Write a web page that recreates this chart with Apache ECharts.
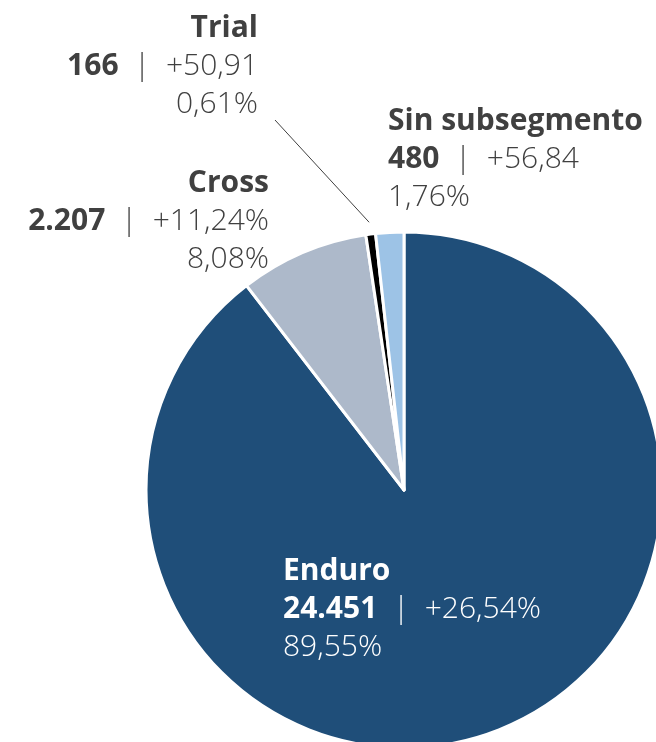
<!DOCTYPE html>
<html>
<head>
<meta charset="utf-8">
<script src="https://cdn.jsdelivr.net/npm/echarts@6/dist/echarts.min.js"></script>
<style>
html,body{margin:0;padding:0;background:#fff;}
#chart{width:656px;height:742px;}
</style>
</head>
<body>
<div id="chart"></div>
<script>
const categories = ['Enduro', 'Cross', 'Trial', 'Sin subsegmento'];
const values = [24451, 2207, 166, 480];
const growth = ['+26,54%', '+11,24%', '+50,91', '+56,84'];

const colors = ['#1F4E79', '#ADB9CA', '#000000', '#9DC3E6'];
const labelPos = [
  { x: 283, y: 552, align: 'left' },
  { x: 269, y: 164, align: 'right' },
  { x: 258, y: 9, align: 'right' },
  { x: 388, y: 102, align: 'left' }
];
const textColors = ['#ffffff', '#404040', '#404040', '#404040'];

function fmtInt(v) {
  return String(v).replace(/\B(?=(\d{3})+(?!\d))/g, '.');
}

const FONT = '"Open Sans", "DejaVu Sans", sans-serif';
const FS = 30, LH = 38;
function richFor(c) {
  return {
    n: { fontFamily: FONT, fontSize: FS, fontWeight: 'bold', color: c, lineHeight: LH },
    v: { fontFamily: FONT, fontSize: FS, fontWeight: 'bold', color: c, lineHeight: LH },
    s: { fontFamily: FONT, fontSize: FS, fontWeight: 300, color: c, lineHeight: LH },
    p: { fontFamily: FONT, fontSize: FS, fontWeight: 300, color: c, lineHeight: LH }
  };
}

const data = categories.map((name, i) => ({
  name: name,
  value: values[i],
  itemStyle: { color: colors[i] },
  label: {
    align: labelPos[i].align,
    rich: richFor(textColors[i])
  },
  labelLine: { show: i === 2, length: 12, length2: 0, lineStyle: { color: '#404040', width: 1 } }
}));

const chart = echarts.init(document.getElementById('chart'), null, { renderer: 'canvas' });
chart.setOption({
  backgroundColor: '#ffffff',
  animation: false,
  series: [{
    type: 'pie',
    center: [404, 490],
    radius: 258,
    startAngle: 90,
    clockwise: true,
    percentPrecision: 2,
    avoidLabelOverlap: false,
    itemStyle: { borderColor: '#ffffff', borderWidth: 3 },
    label: {
      show: true,
      position: 'outside',
      formatter: function (p) {
        const i = p.dataIndex;
        const pct = p.percent.toFixed(2).replace('.', ',') + '%';
        return '{n|' + p.name + '}\n{v|' + fmtInt(values[i]) + '}{s|  |  ' + growth[i] + '}\n{p|' + pct + '}';
      }
    },
    labelLayout: function (params) {
      const lp = labelPos[params.dataIndex];
      const out = { x: lp.x, y: lp.y, align: lp.align, verticalAlign: 'top', hideOverlap: false };
      if (params.labelLinePoints && params.labelLinePoints.length) {
        const r = params.labelRect;
        const right = lp.align === 'right' ? lp.x : lp.x + r.width;
        const bottom = lp.y + r.height;
        const pts = params.labelLinePoints;
        out.labelLinePoints = [pts[1], pts[1], [right + 17, bottom + 5]];
      }
      return out;
    },
    data: data
  }]
});
</script>
</body>
</html>
